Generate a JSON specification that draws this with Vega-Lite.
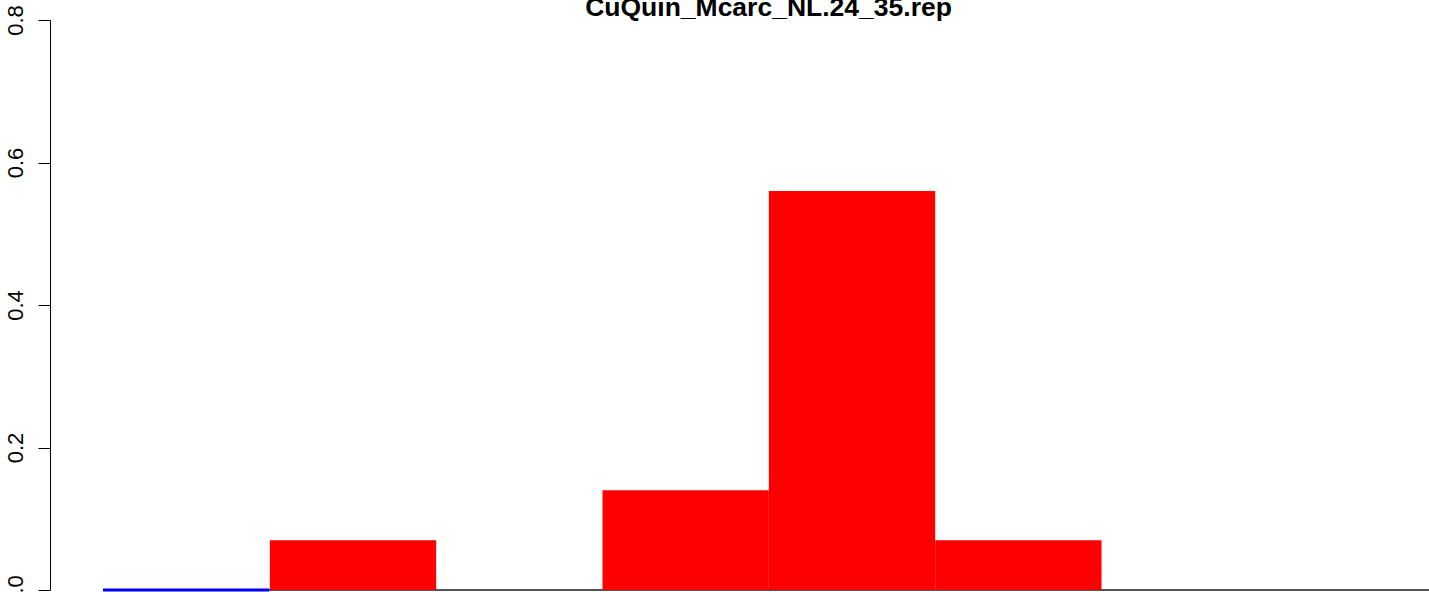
{
  "$schema": "https://vega.github.io/schema/vega-lite/v6.json",
  "width": 1379,
  "height": 592,
  "autosize": {"type": "none"},
  "padding": {"left": 50, "top": 0, "right": 0, "bottom": 0},
  "background": "white",
  "title": {
    "text": "CuQuin_Mcarc_NL.24_35.rep",
    "font": "Liberation Sans",
    "fontSize": 26.5,
    "fontWeight": "bold",
    "color": "black",
    "anchor": "middle",
    "frame": "group",
    "baseline": "alphabetic",
    "offset": -42,
    "dx": 29
  },
  "config": {"view": {"stroke": null}},
  "data": {
    "values": [
      {"lo": 0, "hi": 1, "value": 0},
      {"lo": 1, "hi": 2, "value": 0.07},
      {"lo": 2, "hi": 3, "value": 0},
      {"lo": 3, "hi": 4, "value": 0.14},
      {"lo": 4, "hi": 5, "value": 0.56},
      {"lo": 5, "hi": 6, "value": 0.07},
      {"lo": 6, "hi": 7, "value": 0},
      {"lo": 7, "hi": 8, "value": 0}
    ]
  },
  "layer": [
    {
      "mark": {"type": "rule", "color": "#555555", "strokeWidth": 1, "clip": true},
      "encoding": {
        "x": {"datum": 0, "type": "quantitative", "scale": {"domain": [0, 8], "range": [53, 1383.7]}, "axis": null},
        "x2": {"datum": 8},
        "y": {"datum": 0, "type": "quantitative"}
      }
    },
    {
      "mark": {"type": "bar", "color": "#FF0000", "clip": true, "binSpacing": 0},
      "encoding": {
        "x": {"field": "lo", "type": "quantitative", "bin": {"binned": true}, "scale": {"domain": [0, 8], "range": [53, 1383.7]}, "axis": null},
        "x2": {"field": "hi"},
        "y": {
          "field": "value",
          "type": "quantitative",
          "scale": {"domain": [0, 0.8], "range": [590, 20], "nice": false},
          "axis": {
            "values": [0, 0.2, 0.4, 0.6, 0.8],
            "format": ".1f",
            "grid": false,
            "title": null,
            "tickSize": 12,
            "tickColor": "black",
            "domainColor": "black",
            "tickWidth": 1,
            "domainWidth": 1,
            "labelAngle": -90,
            "labelAlign": "center",
            "labelBaseline": "alphabetic",
            "labelPadding": 16,
            "labelFont": "Liberation Sans",
            "labelFontSize": 22,
            "labelColor": "black",
            "labelOverlap": false,
            "labelBound": false,
            "labelFlush": false
          }
        }
      }
    },
    {
      "transform": [{"filter": "datum.lo == 0"}],
      "mark": {"type": "rule", "color": "#0000FF", "strokeWidth": 3},
      "encoding": {
        "x": {"field": "lo", "type": "quantitative"},
        "x2": {"field": "hi"},
        "y": {"datum": 0, "type": "quantitative"}
      }
    }
  ],
  "resolve": {"scale": {"y": "shared", "x": "shared"}}
}
